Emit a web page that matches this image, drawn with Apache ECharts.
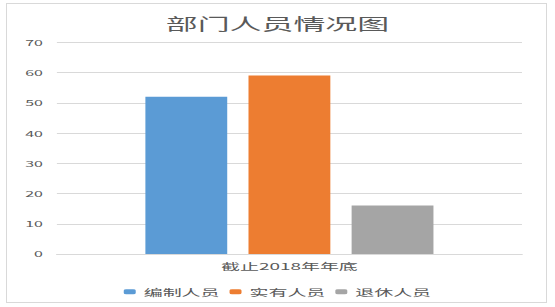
<!DOCTYPE html>
<html>
<head>
<meta charset="utf-8">
<script src="https://cdn.jsdelivr.net/npm/echarts@6/dist/echarts.min.js"></script>
<style>
  html, body { margin: 0; padding: 0; background: #fff; }
  body { width: 555px; height: 307px; overflow: hidden; position: relative; }
  #frame { position: absolute; left: 6px; top: 3px; width: 541px; height: 300px; border: 1px solid #d9d9d9; box-sizing: border-box; }
  #chart { position: absolute; left: 0; top: 0; width: 278px; height: 307px; transform: scaleX(1.996); transform-origin: 0 0; }
</style>
</head>
<body>
<div id="frame"></div>
<div id="chart"></div>
<script>
const titleText = '部门人员情况图';
const categories = ['截止2018年年底'];
const seriesNames = ['编制人员', '实有人员', '退休人员'];
const seriesValues = [[52], [59], [16]];
const seriesColors = ['#5B9BD5', '#ED7D31', '#A5A5A5'];
const yTicks = [0, 10, 20, 30, 40, 50, 60, 70];

const font = '"Noto Sans CJK SC", "Noto Sans", sans-serif';
const chart = echarts.init(document.getElementById('chart'), null, { renderer: 'svg' });
chart.setOption({
  animation: false,
  title: {
    text: titleText,
    left: 'center',
    top: 10,
    textStyle: { fontFamily: font, fontSize: 16, fontWeight: 'normal', color: '#595959' }
  },
  legend: {
    data: seriesNames,
    left: 'center',
    top: 282,
    itemWidth: 6,
    itemHeight: 5,
    itemGap: 5,
    textStyle: { fontFamily: font, fontSize: 9.5, color: '#595959', padding: [0, 0, 0, -1] }
  },
  grid: { left: 28.5, right: 16.5, top: 42.3, bottom: 53, containLabel: false },
  xAxis: {
    type: 'category',
    data: categories,
    axisLine: { show: true, lineStyle: { color: '#D9D9D9' } },
    axisTick: { show: false },
    axisLabel: { fontFamily: font, fontSize: 9.5, color: '#595959', margin: 7 }
  },
  yAxis: {
    type: 'value',
    min: yTicks[0],
    max: yTicks[yTicks.length - 1],
    interval: 10,
    axisLine: { show: false },
    axisTick: { show: false },
    splitLine: { lineStyle: { color: '#D9D9D9' } },
    axisLabel: { fontFamily: font, fontSize: 8, color: '#595959', margin: 7 }
  },
  series: seriesNames.map((n, i) => ({
    name: n,
    type: 'bar',
    data: seriesValues[i],
    barWidth: 41,
    barGap: '26%',
    itemStyle: { color: seriesColors[i] }
  }))
});
</script>
</body>
</html>
